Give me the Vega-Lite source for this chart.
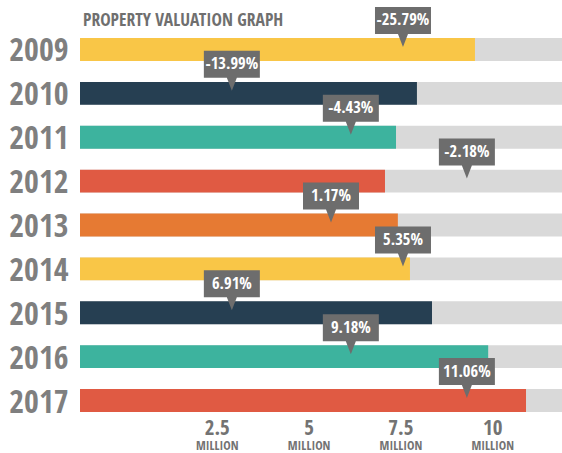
{
  "$schema": "https://vega.github.io/schema/vega-lite/v6.json",
  "width": 482,
  "height": 374,
  "autosize": {"type": "none"},
  "padding": {"left": 80, "top": 38, "right": 0, "bottom": 41},
  "background": "white",
  "title": {
    "text": "PROPERTY VALUATION GRAPH",
    "anchor": "start",
    "frame": "group",
    "font": "Open Sans Condensed, Roboto Condensed, sans-serif",
    "fontSize": 17.5,
    "fontWeight": "bold",
    "color": "#6f6f6f",
    "offset": -23,
    "dx": 3
  },
  "data": {
    "values": [
      {"year": "2009", "value": 9.53, "change": "-25.79%", "marker": 7.57},
      {"year": "2010", "value": 7.95, "change": "-13.99%", "marker": 2.91},
      {"year": "2011", "value": 7.38, "change": "-4.43%", "marker": 6.15},
      {"year": "2012", "value": 7.08, "change": "-2.18%", "marker": 9.31},
      {"year": "2013", "value": 7.43, "change": "1.17%", "marker": 5.61},
      {"year": "2014", "value": 7.76, "change": "5.35%", "marker": 7.57},
      {"year": "2015", "value": 8.36, "change": "6.91%", "marker": 2.91},
      {"year": "2016", "value": 9.89, "change": "9.18%", "marker": 6.15},
      {"year": "2017", "value": 10.92, "change": "11.06%", "marker": 9.31}
    ]
  },
  "encoding": {
    "y": {
      "field": "year",
      "type": "ordinal",
      "sort": null,
      "scale": {"paddingInner": 0.476, "paddingOuter": 0},
      "axis": {
        "title": null,
        "ticks": false,
        "domain": false,
        "labelFont": "Open Sans Condensed, Roboto Condensed, sans-serif",
        "labelFontSize": 32,
        "labelFontWeight": "bold",
        "labelColor": "#7f7f7f",
        "labelPadding": 12,
        "labelOffset": 2,
        "labelBaseline": "middle"
      }
    }
  },
  "layer": [
    {
      "mark": {"type": "bar", "color": "#d9d9d9"},
      "encoding": {
        "x": {"datum": 11.9, "type": "quantitative", "scale": {"domain": [-1.225, 11.9], "nice": false, "zero": false}, "axis": null},
        "x2": {"datum": -1.225}
      }
    },
    {
      "mark": {"type": "bar"},
      "encoding": {
        "x": {
          "field": "value",
          "type": "quantitative",
          "scale": {"domain": [-1.225, 11.9], "nice": false, "zero": false},
          "axis": {
            "orient": "bottom",
            "title": null,
            "values": [2.5, 5, 7.5, 10],
            "format": ".1~f",
            "grid": false,
            "ticks": false,
            "domain": false,
            "labelFont": "Open Sans Condensed, Roboto Condensed, sans-serif",
            "labelFontSize": 21,
            "labelFontWeight": "bold",
            "labelColor": "#737373",
            "labelPadding": 5
          }
        },
        "x2": {"datum": -1.225},
        "color": {
          "field": "year",
          "type": "nominal",
          "legend": null,
          "scale": {
            "domain": ["2009", "2010", "2011", "2012", "2013", "2014", "2015", "2016", "2017"],
            "range": ["#f9c647", "#263f52", "#3db39e", "#e05a43", "#e67a33", "#f9c647", "#263f52", "#3db39e", "#e05a43"]
          }
        }
      }
    },
    {
      "mark": {
        "type": "point",
        "shape": "M-28,-42.5H28V-15.5H5L0,-2.5L-5,-15.5H-28Z",
        "size": 4,
        "filled": true,
        "color": "#6d6d6d",
        "opacity": 1,
        "strokeWidth": 0
      },
      "encoding": {
        "x": {
          "field": "marker",
          "type": "quantitative",
          "scale": {"domain": [-1.225, 11.9], "nice": false, "zero": false},
          "axis": {
            "orient": "bottom",
            "title": null,
            "values": [2.5, 5, 7.5, 10],
            "labelExpr": "'MILLION'",
            "grid": false,
            "ticks": false,
            "domain": false,
            "labelFont": "Open Sans Condensed, Roboto Condensed, sans-serif",
            "labelFontSize": 12.5,
            "labelFontWeight": "bold",
            "labelColor": "#737373",
            "labelPadding": 27
          }
        }
      }
    },
    {
      "mark": {
        "type": "text",
        "color": "white",
        "font": "Open Sans Condensed, Roboto Condensed, sans-serif",
        "fontSize": 16.5,
        "fontWeight": "bold",
        "baseline": "middle",
        "align": "center",
        "dy": -29
      },
      "encoding": {
        "x": {"field": "marker", "type": "quantitative", "scale": {"domain": [-1.225, 11.9], "nice": false, "zero": false}, "axis": null},
        "text": {"field": "change"}
      }
    }
  ],
  "resolve": {"axis": {"x": "independent"}},
  "config": {"view": {"stroke": null}}
}
